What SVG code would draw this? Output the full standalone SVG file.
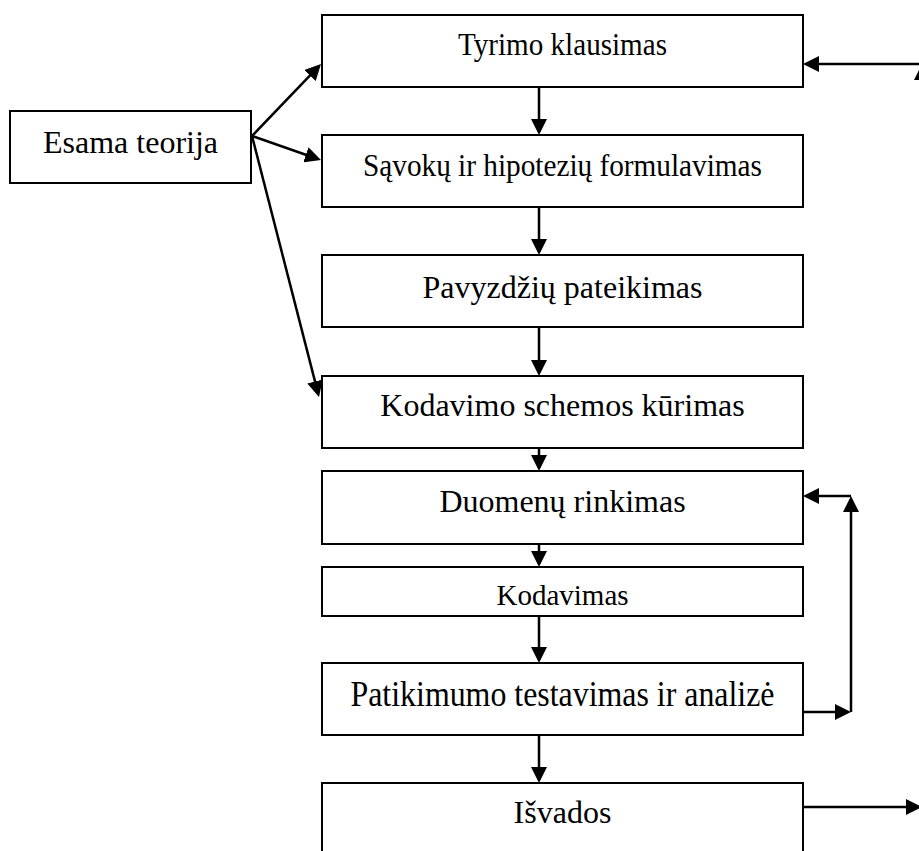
<svg xmlns="http://www.w3.org/2000/svg" width="919" height="851" viewBox="0 0 919 851">
  <style>
    .box { fill: #ffffff; stroke: #000000; stroke-width: 2; }
    .lbl { font-family: "Liberation Serif", "Times New Roman", serif; fill: #000000; text-anchor: middle; }
    .big { font-size: 32px; }
    .small { font-size: 29px; }
    .edge { fill: none; stroke: #000000; stroke-width: 2.5; marker-end: url(#arrow); }
  </style>
  <defs>
    <!-- solid triangular arrowhead, tip sits 4px past the line end -->
    <marker id="arrow" viewBox="0 -8 16 16" refX="12" refY="0" markerWidth="16" markerHeight="16" markerUnits="userSpaceOnUse" orient="auto">
      <path d="M0,-8 L16,0 L0,8 Z" fill="#000000"/>
    </marker>
  </defs>
  <rect width="919" height="851" fill="#ffffff"/>

  <g id="n-esama">
    <rect class="box" x="10" y="111" width="241" height="72"/>
    <text class="lbl big" x="130.5" y="153">Esama teorija</text>
  </g>
  <g id="n-tyrimo">
    <rect class="box" x="322" y="15" width="481" height="72"/>
    <text class="lbl" font-size="31" x="562.5" y="55" textLength="209" lengthAdjust="spacingAndGlyphs">Tyrimo klausimas</text>
  </g>
  <g id="n-savoku">
    <rect class="box" x="322" y="135" width="481" height="72"/>
    <text class="lbl" font-size="31" x="562.5" y="176" textLength="399" lengthAdjust="spacingAndGlyphs">Sąvokų ir hipotezių formulavimas</text>
  </g>
  <g id="n-pavyzdziu">
    <rect class="box" x="322" y="255" width="481" height="72"/>
    <text class="lbl big" x="562.5" y="298">Pavyzdžių pateikimas</text>
  </g>
  <g id="n-schema">
    <rect class="box" x="322" y="376" width="481" height="72"/>
    <text class="lbl big" x="562.5" y="416">Kodavimo schemos kūrimas</text>
  </g>
  <g id="n-duomenu">
    <rect class="box" x="322" y="471" width="481" height="73"/>
    <text class="lbl big" x="562.5" y="512">Duomenų rinkimas</text>
  </g>
  <g id="n-kodavimas">
    <rect class="box" x="322" y="567" width="481" height="49"/>
    <text class="lbl small" x="562.5" y="605">Kodavimas</text>
  </g>
  <g id="n-patikimumo">
    <rect class="box" x="322" y="663" width="481" height="72"/>
    <text class="lbl" font-size="35" x="562.5" y="706" textLength="424" lengthAdjust="spacingAndGlyphs">Patikimumo testavimas ir analizė</text>
  </g>
  <g id="n-isvados">
    <rect class="box" x="322" y="783" width="481" height="100"/>
    <text class="lbl big" x="562.5" y="823">Išvados</text>
  </g>

  <g id="connectors">
    <!-- from the theory box into three steps -->
    <path class="edge" d="M252,136 L318.2,66.9"/>
    <path class="edge" d="M252,136 L317.2,158.7"/>
    <path class="edge" d="M252,136 L318,393.1"/>
    <!-- main vertical flow -->
    <path class="edge" d="M539,87 V131"/>
    <path class="edge" d="M539,207 V251"/>
    <path class="edge" d="M539,327 V372"/>
    <path class="edge" d="M539,448 V467"/>
    <path class="edge" d="M539,544 V563"/>
    <path class="edge" d="M539,616 V659"/>
    <path class="edge" d="M539,735 V779"/>
    <!-- reliability feedback loop back to data collection -->
    <path class="edge" d="M803,712 H847"/>
    <path class="edge" d="M851,712 V500"/>
    <path class="edge" d="M851,496 H807"/>
    <!-- outer loop from conclusions back to the research question -->
    <path class="edge" d="M803,807 H918"/>
    <path class="edge" d="M922,807 V68"/>
    <path class="edge" d="M930,64 H807"/>
  </g>
</svg>
